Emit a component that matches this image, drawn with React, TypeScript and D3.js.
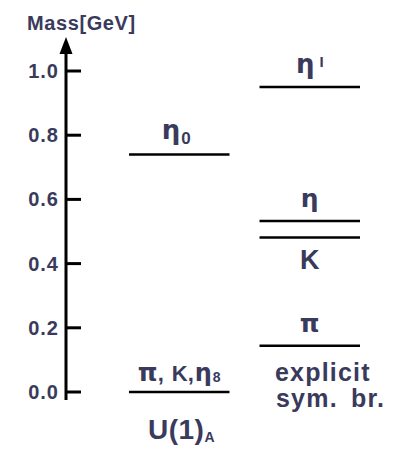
import React from "react";
import * as d3 from "d3";

const tickValues = [0, 0.2, 0.4, 0.6, 0.8, 1.0];
const columns = ["U(1)A", "explicit"];
const u1Labels = ["η0", "π, K,η8"];
const u1Masses = [0.74, 0.0];
const explicitLabels = ["η'", "η", "K", "π"];
const explicitMasses = [0.95, 0.533, 0.481, 0.144];

const W = 415;
const H = 458;
const TEXT = "#3a3a5c";
const SANS = "'Liberation Sans', Arial, sans-serif";
const GREEK = "'DejaVu Sans', sans-serif";

export default function App() {
  const y = d3.scaleLinear().domain([0, 1]).range([392, 71]);
  const x = d3.scaleBand().domain(columns).range([129, 360]).paddingInner(0.23);
  const bw = x.bandwidth();
  const axisX = 66;

  const levels = [
    ...u1Labels.map((l, i) => ({ col: columns[0], label: l, mass: u1Masses[i] })),
    ...explicitLabels.map((l, i) => ({ col: columns[1], label: l, mass: explicitMasses[i] })),
  ];

  const renderLabel = (label: string) => {
    if (label === "η0")
      return (
        <>
          <tspan fontFamily={GREEK} fontSize={26}>η</tspan>
          <tspan fontFamily={SANS} fontSize={17} dx={1} dy={5}>0</tspan>
        </>
      );
    if (label === "η'")
      return (
        <>
          <tspan fontFamily={GREEK} fontSize={26}>η</tspan>
          <tspan fontFamily={SANS} fontSize={15} dx={5} dy={-6.5}>I</tspan>
        </>
      );
    if (label === "π, K,η8")
      return (
        <>
          <tspan fontFamily={GREEK} fontSize={25}>π</tspan>
          <tspan fontFamily={SANS} fontSize={22}>,</tspan>
          <tspan fontFamily={SANS} fontSize={22} dx={8}>K,</tspan>
          <tspan fontFamily={GREEK} fontSize={24} dx={1}>η</tspan>
          <tspan fontFamily={SANS} fontSize={14} dx={1} dy={1.5}>8</tspan>
        </>
      );
    if (label === "K") return <tspan fontFamily={SANS} fontSize={27}>K</tspan>;
    if (label === "π") return <tspan fontFamily={GREEK} fontSize={25}>π</tspan>;
    return <tspan fontFamily={GREEK} fontSize={25}>{label}</tspan>;
  };

  const labelOffset = (label: string) => {
    if (label === "K") return 31.6;
    if (label === "π, K,η8") return -11.5;
    if (label === "η0") return -15.5;
    return -14;
  };

  const labelShift = (label: string) => (label === "η0" ? -3 : 0);

  return (
    <svg width={W} height={H} style={{ position: "absolute", left: 0, top: 0 }}>
      <rect width={W} height={H} fill="#fff" />
      {/* axis title */}
      <text x={27} y={29.5} fill={TEXT} fontFamily={SANS} fontWeight="bold" fontSize={20} letterSpacing={0.6}>
        Mass[GeV]
      </text>
      {/* axis */}
      <line x1={axisX} x2={axisX} y1={400} y2={50} stroke="#000" strokeWidth={3} />
      <polygon points={`${axisX},37 ${axisX - 6.5},54 ${axisX + 6.5},54`} fill="#000" />
      {tickValues.map((t) => (
        <g key={t}>
          <line x1={axisX} x2={axisX + 15} y1={y(t)} y2={y(t)} stroke="#000" strokeWidth={3} />
          <text
            x={59}
            y={y(t) + 7}
            textAnchor="end"
            fill={TEXT}
            fontFamily={SANS}
            fontWeight="bold"
            fontSize={20}
            letterSpacing={1}
          >
            {t.toFixed(1)}
          </text>
        </g>
      ))}
      {/* levels */}
      {levels.map((d) => {
        const x0 = x(d.col)!;
        const cx = x0 + bw / 2 + labelShift(d.label);
        const ly = y(d.mass);
        return (
          <g key={d.col + d.label}>
            <line x1={x0} x2={x0 + bw} y1={ly} y2={ly} stroke="#000" strokeWidth={2.5} />
            <text x={cx} y={ly + labelOffset(d.label)} textAnchor="middle" fill={TEXT} fontWeight="bold">
              {renderLabel(d.label)}
            </text>
          </g>
        );
      })}
      {/* column captions */}
      <text x={148} y={438.5} fill={TEXT} fontFamily={SANS} fontWeight="bold">
        <tspan fontSize={28} letterSpacing={0.5}>U(1)</tspan>
        <tspan fontSize={14} dx={0} dy={3}>A</tspan>
      </text>
      <text x={275} y={381} fill={TEXT} fontFamily={SANS} fontWeight="bold" fontSize={25} letterSpacing={1.2}>
        explicit
      </text>
      <text
        x={276}
        y={407}
        fill={TEXT}
        fontFamily={SANS}
        fontWeight="bold"
        fontSize={25}
        letterSpacing={1.2}
        wordSpacing={5}
      >
        sym. br.
      </text>
    </svg>
  );
}
